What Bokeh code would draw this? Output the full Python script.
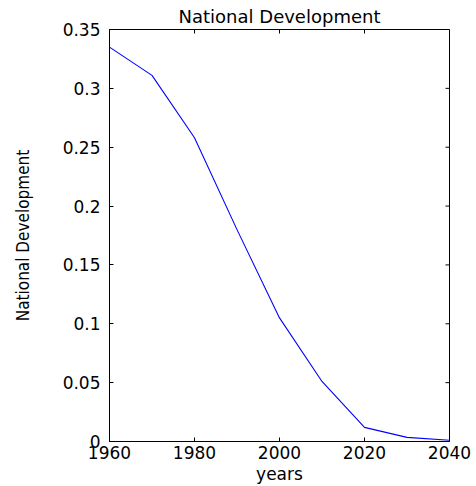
import math
from bokeh.plotting import figure
from bokeh.models import FixedTicker, Range1d
from bokeh.embed import file_html
from bokeh.resources import INLINE

years = [1960, 1970, 1980, 1990, 2000, 2010, 2020, 2030, 2040]
development = [0.335, 0.311, 0.258, 0.180, 0.105, 0.051, 0.012, 0.0035, 0.001]

x_ticks = [1960, 1980, 2000, 2020, 2040]
y_ticks = [0.0, 0.05, 0.1, 0.15, 0.2, 0.25, 0.3, 0.35]
y_tick_labels = ["0", "0.05", "0.1", "0.15", "0.2", "0.25", "0.3", "0.35"]

title_text = "National Development"
x_label = "years"
y_label = "National Development"

FONT = "DejaVu Sans"

p = figure(
    output_backend="svg", toolbar_location=None,
    frame_width=340, frame_height=412,
    min_border_left=109, min_border_right=25, min_border_top=29, min_border_bottom=0,
    x_range=Range1d(x_ticks[0], x_ticks[-1]), y_range=Range1d(y_ticks[0], y_ticks[-1]),
    title=title_text,
)
p.title.align = "center"
p.title.text_font = FONT
p.title.text_font_style = "normal"
p.title.text_font_size = "18px"
p.title.text_color = "black"
p.title.standoff = 6
p.title.offset = 0

p.line(years, development, line_color="#0000ff", line_width=1.1)

# inward ticks on the top and right edges of the box
p.ray(x=x_ticks, y=[y_ticks[-1]] * len(x_ticks), length=4, length_units="screen",
      angle=-math.pi / 2, line_color="black", line_width=1)
p.ray(x=[x_ticks[-1]] * len(y_ticks), y=y_ticks, length=4, length_units="screen",
      angle=math.pi, line_color="black", line_width=1)

p.grid.visible = False
p.outline_line_color = "black"
p.outline_line_width = 1
p.background_fill_color = "white"
p.border_fill_color = "white"


def style_axis(ax):
    ax.axis_line_color = "black"
    ax.axis_line_width = 1
    ax.major_tick_in = 4
    ax.major_tick_out = 0
    ax.minor_tick_in = 0
    ax.minor_tick_out = 0
    ax.major_tick_line_color = "black"
    ax.major_label_text_font = FONT
    ax.major_label_text_color = "black"
    ax.major_label_text_font_size = "17px"


xa = p.xaxis[0]
xa.ticker = FixedTicker(ticks=x_ticks)
style_axis(xa)
xa.major_label_standoff = 4
xa.axis_label = x_label
xa.axis_label_text_font = FONT
xa.axis_label_text_font_style = "normal"
xa.axis_label_text_font_size = "17px"
xa.axis_label_text_color = "black"
xa.axis_label_standoff = 2

ya = p.yaxis[0]
ya.ticker = FixedTicker(ticks=y_ticks)
ya.major_label_overrides = {t: s for t, s in zip(y_ticks, y_tick_labels)}
style_axis(ya)
ya.major_label_standoff = 9
ya.axis_label = y_label
ya.axis_label_text_font = "Liberation Sans Narrow, DejaVu Sans Condensed, Liberation Sans"
ya.axis_label_text_font_style = "normal"
ya.axis_label_text_font_size = "17px"
ya.axis_label_text_color = "black"
ya.axis_label_standoff = 27

open("out.html", "w").write(file_html(p, INLINE))
